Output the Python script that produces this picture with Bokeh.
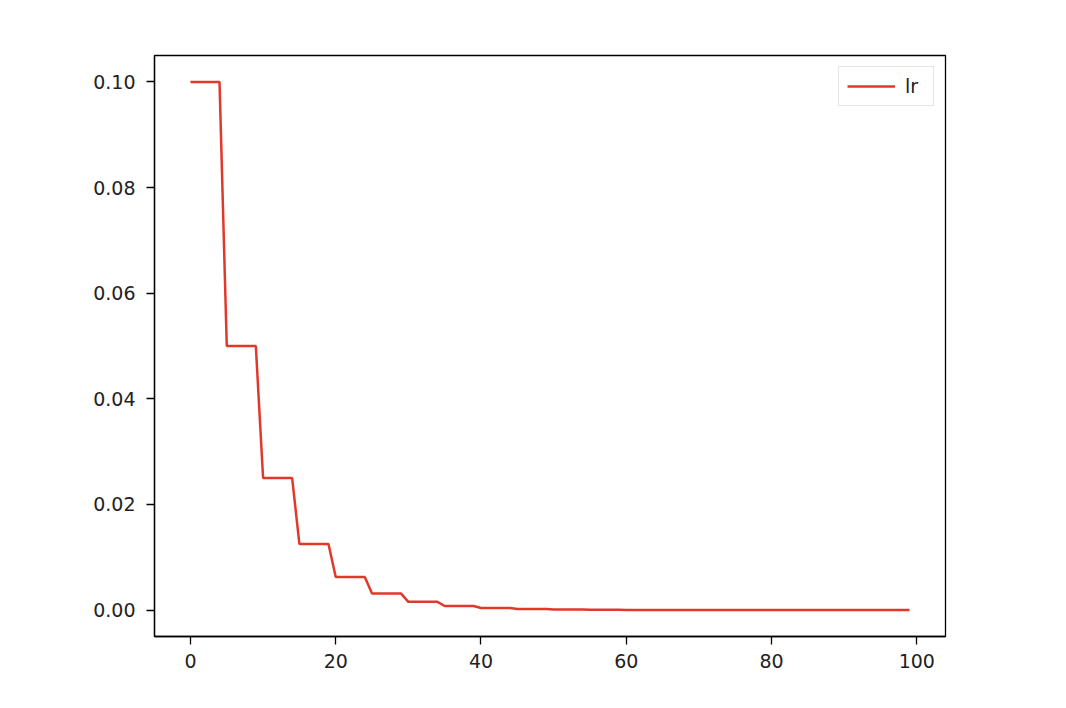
from bokeh.plotting import figure
from bokeh.models import FixedTicker, PrintfTickFormatter, Range1d, ColumnDataSource
from bokeh.embed import file_html
from bokeh.resources import INLINE

epochs = list(range(100))
lr = [
    0.1, 0.1, 0.1, 0.1, 0.1,
    0.05, 0.05, 0.05, 0.05, 0.05,
    0.025, 0.025, 0.025, 0.025, 0.025,
    0.0125, 0.0125, 0.0125, 0.0125, 0.0125,
    0.00625, 0.00625, 0.00625, 0.00625, 0.00625,
    0.003125, 0.003125, 0.003125, 0.003125, 0.003125,
    0.0015625, 0.0015625, 0.0015625, 0.0015625, 0.0015625,
    0.00078125, 0.00078125, 0.00078125, 0.00078125, 0.00078125,
    0.000390625, 0.000390625, 0.000390625, 0.000390625, 0.000390625,
    0.000195, 0.000195, 0.000195, 0.000195, 0.000195,
    0.0000977, 0.0000977, 0.0000977, 0.0000977, 0.0000977,
    0.0000488, 0.0000488, 0.0000488, 0.0000488, 0.0000488,
    0.0000244, 0.0000244, 0.0000244, 0.0000244, 0.0000244,
    0.0000122, 0.0000122, 0.0000122, 0.0000122, 0.0000122,
    0.0000061, 0.0000061, 0.0000061, 0.0000061, 0.0000061,
    0.0000031, 0.0000031, 0.0000031, 0.0000031, 0.0000031,
    0.0000015, 0.0000015, 0.0000015, 0.0000015, 0.0000015,
    0.00000076, 0.00000076, 0.00000076, 0.00000076, 0.00000076,
    0.00000038, 0.00000038, 0.00000038, 0.00000038, 0.00000038,
    0.00000019, 0.00000019, 0.00000019, 0.00000019, 0.00000019,
]
x_ticks = [0, 20, 40, 60, 80, 100]
y_ticks = [0.0, 0.02, 0.04, 0.06, 0.08, 0.10]
series_name = "lr"

FONT = "DejaVu Sans"

p = figure(width=1058, height=700, output_backend="svg", toolbar_location=None,
           x_range=Range1d(-4.95, 103.95), y_range=Range1d(-0.005, 0.105),
           min_border_left=154, min_border_top=55, min_border_right=113, min_border_bottom=64)

src = ColumnDataSource(dict(x=epochs, y=lr))
p.line("x", "y", source=src, line_color="#e2382c", line_width=2.5, legend_label=series_name)

p.grid.visible = False
p.outline_line_color = "black"
p.outline_line_width = 1.3
p.background_fill_color = "white"
p.border_fill_color = "white"

for ax in (p.xaxis[0], p.yaxis[0]):
    ax.axis_line_color = "black"
    ax.axis_line_width = 1.3
    ax.major_tick_line_color = "black"
    ax.major_tick_line_width = 1.3
    ax.major_tick_out = 8
    ax.major_tick_in = 0
    ax.minor_tick_line_color = None
    ax.major_label_text_font = FONT
    ax.major_label_text_font_size = "19px"
    ax.major_label_text_color = "#222222"

p.yaxis.major_label_standoff = 11
p.xaxis.major_label_standoff = 9

p.xaxis.ticker = FixedTicker(ticks=x_ticks)
p.yaxis.ticker = FixedTicker(ticks=y_ticks)
p.yaxis.formatter = PrintfTickFormatter(format="%.2f")

lg = p.legend[0]
lg.location = "top_right"
lg.margin = 11
lg.padding = 8
lg.spacing = 0
lg.border_line_color = "#cccccc"
lg.border_line_width = 1
lg.label_text_font = FONT
lg.label_text_font_size = "19px"
lg.label_text_color = "#222222"
lg.glyph_width = 48
lg.label_standoff = 10

open("out.html", "w").write(file_html(p, INLINE))
